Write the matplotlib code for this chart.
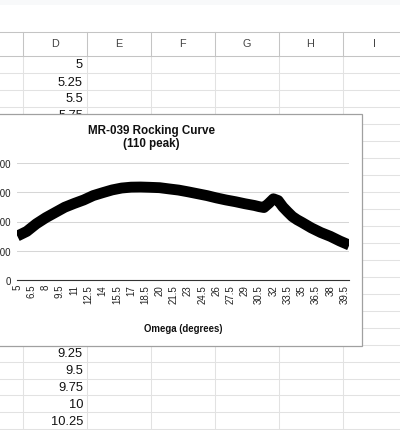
import matplotlib
matplotlib.use("Agg")
import matplotlib.pyplot as plt
from matplotlib.patches import Rectangle

plt.rcParams['font.family'] = ['Liberation Sans', 'DejaVu Sans']

# ---- spreadsheet content ----
col_letters = ["D", "E", "F", "G", "H", "I"]
cell_values = ["5", "5.25", "5.5", "5.75", "6", "6.25", "6.5", "6.75", "7", "7.25",
               "7.5", "7.75", "8", "8.25", "8.5", "8.75", "9", "9.25", "9.5", "9.75",
               "10", "10.25"]

# ---- chart data (omega in degrees, intensity) ----
omega = [5, 6, 7, 8, 9, 10, 11, 12, 13, 14, 15, 16, 17, 18, 19, 20, 21, 22, 23, 24,
         25, 26, 27, 28, 29, 30, 30.5, 31, 31.5, 32, 32.5, 33, 33.5, 34, 34.5, 35,
         36, 37, 38, 39, 40]
intensity = [1500, 1660, 1920, 2130, 2310, 2490, 2620, 2740, 2890, 2990, 3085, 3150,
             3180, 3185, 3175, 3162, 3120, 3080, 3020, 2955, 2890, 2810, 2740, 2680,
             2610, 2550, 2510, 2480, 2620, 2780, 2720, 2500, 2330, 2170, 2060, 1970,
             1780, 1620, 1490, 1330, 1190]
xtick_vals = [5, 6.5, 8, 9.5, 11, 12.5, 14, 15.5, 17, 18.5, 20, 21.5, 23, 24.5, 26,
              27.5, 29, 30.5, 32, 33.5, 35, 36.5, 38, 39.5]
xtick_labels = ["5", "6.5", "8", "9.5", "11", "12.5", "14", "15.5", "17", "18.5", "20",
                "21.5", "23", "24.5", "26", "27.5", "29", "30.5", "32", "33.5", "35",
                "36.5", "38", "39.5"]
ytick_vals = [0, 1000, 2000, 3000, 4000]
ytick_labels = ["0", "1000", "2000", "3000", "4000"]

W, H = 400, 431
fig = plt.figure(figsize=(W / 100, H / 100), dpi=100)
fig.patch.set_facecolor("white")

bg = fig.add_axes([0, 0, 1, 1])
bg.set_xlim(0, W)
bg.set_ylim(H, 0)
bg.axis("off")

# top light strip
bg.add_patch(Rectangle((0, 0), W, 6, facecolor="#f8f9fa", edgecolor="none", zorder=0))

col_edges = [22.5, 86.5, 150.5, 214.5, 278.5, 342.5]
header_top, header_bot = 32.5, 56.5
row_h = 17

# cell grid lines
for k in range(1, 23):
    y = header_bot + row_h * k
    bg.plot([0, W], [y, y], color="#e2e2e2", lw=0.75, zorder=1)
for x in col_edges:
    bg.plot([x, x], [header_bot, H], color="#e2e2e2", lw=0.75, zorder=1)
# header lines
bg.plot([0, W], [header_top, header_top], color="#c4c4c4", lw=0.75, zorder=2)
bg.plot([0, W], [header_bot, header_bot], color="#c4c4c4", lw=0.75, zorder=2)
for x in col_edges:
    bg.plot([x, x], [header_top, header_bot], color="#c4c4c4", lw=0.75, zorder=2)

# header letters
for i, letter in enumerate(col_letters):
    xc = col_edges[i] + 32
    bg.text(xc, 44, letter, ha="center", va="center", fontsize=7.8, color="#444444",
            zorder=3)

# cell values in column D
for k, v in enumerate(cell_values):
    bg.text(83, header_bot + row_h * k + 9, v, ha="right", va="center", fontsize=9.3,
            color="#111111", zorder=3)

# chart box
bg.add_patch(Rectangle((-3, 114.5), 364.5, 232.5, facecolor="white",
                       edgecolor="#a0a0a0", lw=0.9, zorder=5))
bg.text(151.5, 131.2, "MR-039 Rocking Curve", ha="center", va="center",
        fontsize=8.4, fontweight="bold", color="#111111", zorder=6)
bg.text(151.5, 143.6, "(110 peak)", ha="center", va="center",
        fontsize=8.4, fontweight="bold", color="#111111", zorder=6)
bg.text(183, 329, "Omega (degrees)", ha="center", va="center",
        fontsize=6.9, fontweight="bold", color="#111111", zorder=6)

# plot area
pl, pr, pt, pb = 17.3, 349.3, 164.3, 280.7
ax = fig.add_axes([pl / W, (H - pb) / H, (pr - pl) / W, (pb - pt) / H])
ax.set_zorder(10)
ax.patch.set_alpha(0)
ax.plot(omega, intensity, color="black", lw=7.8, solid_joinstyle="round",
        solid_capstyle="butt", zorder=3)
ax.set_xlim(5, 40)
ax.set_ylim(0, 4000)
ax.set_yticks(ytick_vals)
ax.set_yticklabels(ytick_labels)
ax.set_xticks(xtick_vals)
ax.set_xticklabels(xtick_labels, rotation=90)
ax.tick_params(axis="y", length=0, pad=4.5, labelsize=7, labelcolor="#222222")
ax.tick_params(axis="x", length=0, pad=3, labelsize=7, labelcolor="#222222")
ax.grid(axis="y", color="#d6d6d6", lw=0.75)
ax.set_axisbelow(True)
for s in ["top", "right", "left"]:
    ax.spines[s].set_visible(False)
ax.spines["bottom"].set_color("#333333")
ax.spines["bottom"].set_linewidth(0.8)

fig.savefig("out.png", dpi=100)
